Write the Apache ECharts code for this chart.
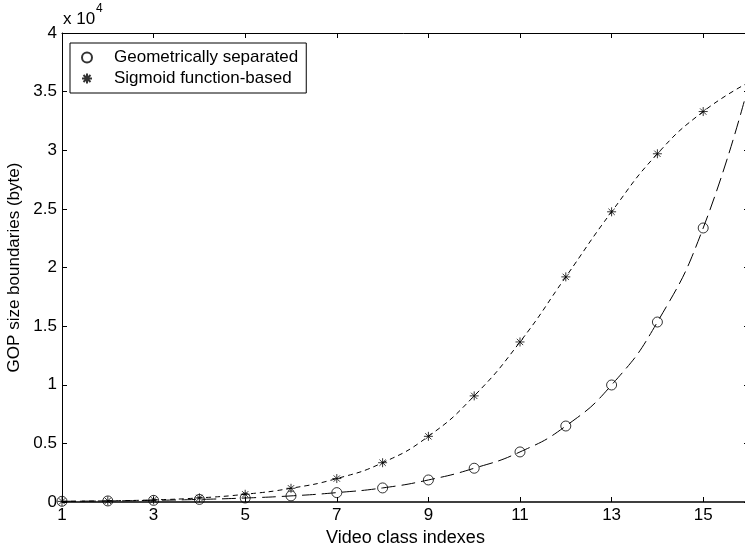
<!DOCTYPE html>
<html>
<head>
<meta charset="utf-8">
<script src="https://cdn.jsdelivr.net/npm/echarts@6/dist/echarts.min.js"></script>
<style>
  html, body { margin: 0; padding: 0; background: #fff; }
  #chart { width: 745px; height: 552px; }
</style>
</head>
<body>
<div id="chart"></div>
<script>
// video class index (x) and the two sets of GOP size boundaries (bytes)
const classIdx = [1, 2, 3, 4, 5, 6, 7, 8, 9, 10, 11, 12, 13, 14, 15, 16];
const geoBounds = [60, 90, 140, 220, 340, 520, 800, 1200, 1880, 2880, 4270, 6480, 9980, 15350, 23370, 35700];
const sigBounds = [50, 100, 180, 350, 660, 1170, 2000, 3350, 5600, 9050, 13650, 19200, 24750, 29700, 33300, 35800];
// markers are only drawn for classes 1..15
const markerCount = 15;

const FONT = "Liberation Sans, Arial, sans-serif";
const STAR = "path://M5,0L5,10M0,5L10,5M1.5,1.5L8.5,8.5M1.5,8.5L8.5,1.5";

const pairs = (ys, n) => classIdx.slice(0, n).map((x, i) => [x, ys[i]]);

const chart = echarts.init(document.getElementById("chart"));

const baseX = {
  type: "value",
  min: 1,
  max: 16,
  interval: 2,
  axisLine: { onZero: false, lineStyle: { color: "#000", width: 1 } },
  axisTick: { inside: true, length: 5, lineStyle: { color: "#000" } },
  splitLine: { show: false },
};
const baseY = {
  type: "value",
  min: 0,
  max: 40000,
  interval: 5000,
  axisLine: { show: true, onZero: false, lineStyle: { color: "#000", width: 1 } },
  axisTick: { show: true, inside: true, length: 5, lineStyle: { color: "#000" } },
  splitLine: { show: false },
};

chart.setOption({
  animation: false,
  textStyle: { fontFamily: FONT },
  grid: { left: 62, top: 33, right: -4, bottom: 50, containLabel: false, outerBoundsMode: "none" },
  graphic: [
    {
      type: "text",
      x: 63,
      y: 11,
      style: { text: "x 10", font: "17px " + FONT, fill: "#000", verticalAlign: "top" },
    },
    {
      type: "text",
      x: 96,
      y: 3,
      style: { text: "4", font: "12px " + FONT, fill: "#000", verticalAlign: "top" },
    },
  ],
  legend: {
    orient: "vertical",
    left: 70,
    top: 43,
    padding: [5, 8, 5, 11],
    itemGap: 2,
    itemWidth: 44,
    itemHeight: 10,
    borderColor: "#000",
    borderWidth: 1,
    backgroundColor: "#fff",
    textStyle: { fontSize: 17, lineHeight: 19, color: "#000", fontFamily: FONT },
    data: ["Geometrically separated", "Sigmoid function-based"],
  },
  xAxis: [
    {
      ...baseX,
      position: "bottom",
      name: "Video class indexes",
      nameLocation: "middle",
      nameGap: 26,
      nameTextStyle: { fontSize: 18, color: "#000", fontFamily: FONT },
      axisLine: { onZero: false, lineStyle: { color: "#000", width: 1.5 } },
      axisLabel: { fontSize: 17, color: "#000", margin: 5, showMaxLabel: false, fontFamily: FONT },
    },
    {
      ...baseX,
      position: "top",
      axisLabel: { show: false },
    },
  ],
  yAxis: [
    {
      ...baseY,
      position: "left",
      name: "GOP size boundaries (byte)",
      nameLocation: "middle",
      nameGap: 36,
      nameTextStyle: { fontSize: 17, color: "#000", fontFamily: FONT },
      axisLabel: {
        fontSize: 17,
        color: "#000",
        margin: 5,
        fontFamily: FONT,
        formatter: (v) => String(v / 10000),
      },
    },
    {
      ...baseY,
      position: "right",
      axisLabel: { show: false },
    },
  ],
  series: [
    {
      name: "geo-curve",
      type: "line",
      data: pairs(geoBounds, classIdx.length),
      smooth: true,
      showSymbol: false,
      lineStyle: { color: "#000", width: 1, type: [14, 6] },
      z: 2,
    },
    {
      name: "sig-curve",
      type: "line",
      data: pairs(sigBounds, classIdx.length),
      smooth: true,
      showSymbol: false,
      lineStyle: { color: "#000", width: 1, type: [5, 4] },
      z: 2,
    },
    {
      name: "Geometrically separated",
      type: "scatter",
      data: pairs(geoBounds, markerCount),
      symbol: "circle",
      symbolSize: 10,
      itemStyle: { color: "rgba(255,255,255,0)", borderColor: "#000", borderWidth: 1 },
      z: 3,
    },
    {
      name: "Sigmoid function-based",
      type: "scatter",
      data: pairs(sigBounds, markerCount),
      symbol: STAR,
      symbolSize: 9,
      itemStyle: { color: "rgba(255,255,255,0)", borderColor: "#000", borderWidth: 1 },
      z: 3,
    },
  ],
});
</script>
</body>
</html>
